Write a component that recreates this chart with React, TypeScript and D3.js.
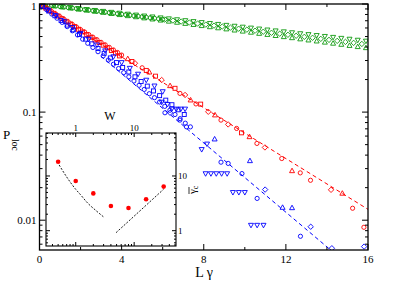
import React from 'react';
import * as d3 from 'd3';

// ---------- DATA ----------
// Main panel: [L*gamma, P_loc]
const greenCircles: [number, number][] = [
  [0, 1.0], [0.2, 0.989], [0.4, 0.978], [0.6, 0.968], [0.8, 0.957], [1.0, 0.947], [1.2, 0.937], [1.4, 0.927],
  [1.6, 0.916], [1.8, 0.907], [2.0, 0.897], [2.2, 0.887], [2.4, 0.877], [2.6, 0.868], [2.8, 0.858], [3.0, 0.849],
  [3.2, 0.84], [3.4, 0.831], [3.6, 0.822], [3.8, 0.813], [4.0, 0.804], [4.2, 0.795], [4.4, 0.787], [4.6, 0.778],
  [4.8, 0.77], [5.0, 0.761], [5.2, 0.753], [5.4, 0.745], [5.6, 0.737], [5.8, 0.729], [6.0, 0.721],
];
const greenTriDown: [number, number][] = [
  [0.3, 0.985], [0.7, 0.966], [1.1, 0.947], [1.5, 0.929], [1.9, 0.91], [2.3, 0.892], [2.7, 0.875], [3.1, 0.858],
  [3.5, 0.841], [3.9, 0.825], [4.3, 0.808], [4.7, 0.793], [5.1, 0.777], [5.5, 0.762], [5.9, 0.747], [6.3, 0.732],
  [6.7, 0.718], [7.1, 0.704], [7.5, 0.69], [7.9, 0.676], [8.3, 0.663], [8.7, 0.65], [9.1, 0.637], [9.5, 0.625],
  [9.9, 0.613], [10.3, 0.601], [10.7, 0.589], [11.1, 0.577], [11.5, 0.566], [11.9, 0.555], [12.3, 0.544],
  [12.7, 0.533], [13.1, 0.523], [13.5, 0.513], [13.9, 0.503], [14.3, 0.493], [14.7, 0.483], [15.1, 0.474],
  [15.5, 0.464], [15.9, 0.455],
];
const greenTriUp: [number, number][] = [
  [0.3, 0.983], [0.7, 0.96], [1.1, 0.937], [1.5, 0.916], [1.9, 0.894], [2.3, 0.874], [2.7, 0.853], [3.1, 0.834],
  [3.5, 0.814], [3.9, 0.795], [4.3, 0.777], [4.7, 0.759], [5.1, 0.741], [5.5, 0.724], [5.9, 0.707], [6.3, 0.691],
  [6.7, 0.675], [7.1, 0.659], [7.5, 0.644], [7.9, 0.629], [8.3, 0.614], [8.7, 0.6], [9.1, 0.586], [9.5, 0.572],
  [9.9, 0.559], [10.3, 0.546], [10.7, 0.533], [11.1, 0.521], [11.5, 0.509], [11.9, 0.497], [12.3, 0.486],
  [12.7, 0.474], [13.1, 0.463], [13.5, 0.453], [13.9, 0.442], [14.3, 0.432], [14.7, 0.422], [15.1, 0.412],
  [15.5, 0.402], [15.9, 0.393],
];
const greenDiamonds: [number, number][] = [
  [6.1, 0.719], [6.5, 0.703], [6.9, 0.688], [7.3, 0.674], [7.7, 0.659], [8.1, 0.645], [8.5, 0.631], [8.9, 0.618],
  [9.3, 0.604], [9.7, 0.591], [10.1, 0.579], [10.5, 0.566], [10.9, 0.554], [11.3, 0.542], [11.7, 0.531],
  [12.1, 0.519], [12.5, 0.508], [12.9, 0.497], [13.3, 0.487], [13.7, 0.476], [14.1, 0.466], [14.5, 0.456],
  [14.9, 0.446], [15.3, 0.437], [15.7, 0.427],
];

const redCircles: [number, number][] = [
  [0, 1.0], [0.2, 0.947], [0.4, 0.897], [0.6, 0.849], [0.8, 0.804], [1.0, 0.762], [1.2, 0.721], [1.4, 0.683],
  [1.6, 0.647], [1.8, 0.613], [2.0, 0.58], [2.2, 0.55], [2.4, 0.521], [2.6, 0.493], [2.8, 0.467], [3.0, 0.442],
  [3.2, 0.419], [3.4, 0.397], [3.6, 0.376], [3.8, 0.356], [4.0, 0.337],
  [5.0, 0.257], [6.84, 0.149], [7.62, 0.119], [8.84, 0.0843], [9.6, 0.0706], [10.59, 0.0513], [11.8, 0.0372],
  [12.7, 0.0274], [13.2, 0.0234], [15.25, 0.0129], [15.8, 0.0086],
];
const redSquares: [number, number][] = [
  [0.1, 0.972], [0.3, 0.918], [0.5, 0.868], [0.7, 0.82], [0.9, 0.775], [1.1, 0.732], [1.3, 0.692], [1.5, 0.654],
  [1.7, 0.618], [1.9, 0.584], [2.1, 0.552], [2.3, 0.521], [2.5, 0.493], [2.7, 0.465], [2.9, 0.44], [3.1, 0.416],
  [3.3, 0.393], [3.5, 0.371], [3.7, 0.351], [3.9, 0.331],
  [4.5, 0.294], [5.2, 0.243], [5.65, 0.215], [6.6, 0.166], [7.85, 0.1185], [9.84, 0.0643],
];
const redTriUp: [number, number][] = [
  [4.3, 0.311], [5.35, 0.234], [6.36, 0.175], [7.36, 0.129], [8.55, 0.0938], [10.23, 0.059], [12.3, 0.0286],
  [14.75, 0.0177],
];
const redDiamonds: [number, number][] = [
  [4.65, 0.283], [5.95, 0.198], [7.09, 0.144], [8.22, 0.1007], [9.19, 0.0769], [10.98, 0.0471], [14.2, 0.0191],
];

const blueTriDown: [number, number][] = [
  [0.4, 0.883], [0.8, 0.78], [1.2, 0.689], [1.6, 0.608], [2.0, 0.537], [2.4, 0.474], [2.8, 0.419], [3.2, 0.37],
  [3.6, 0.326], [4.0, 0.288], [4.4, 0.255], [4.8, 0.225], [5.2, 0.198], [5.6, 0.175], [5.95, 0.124], [6.0, 0.155],
  [6.23, 0.118], [6.44, 0.107], [6.66, 0.107], [6.88, 0.107], [7.09, 0.107],
  [7.9, 0.0452], [8.16, 0.0508], [8.09, 0.027], [8.35, 0.027], [8.61, 0.027], [8.87, 0.027], [9.14, 0.027],
  [9.42, 0.0181], [9.71, 0.0181], [10.0, 0.0181], [10.3, 0.009], [10.6, 0.009], [10.91, 0.009],
];
const blueSquares: [number, number][] = [
  [0.15, 0.951], [0.45, 0.861], [0.75, 0.779], [1.05, 0.705], [1.35, 0.638], [1.65, 0.577], [1.95, 0.522],
  [2.25, 0.473], [2.55, 0.428], [2.85, 0.387], [3.15, 0.35], [3.45, 0.317], [3.75, 0.287], [4.05, 0.259],
  [4.35, 0.235], [4.65, 0.212], [4.95, 0.192], [5.25, 0.174], [5.55, 0.157], [5.85, 0.142], [6.15, 0.129],
  [6.45, 0.117], [6.75, 0.105], [7.05, 0.095],
];
const blueCircles: [number, number][] = [
  [0.1, 0.965], [0.35, 0.883], [0.6, 0.807], [0.85, 0.739], [1.1, 0.676], [1.35, 0.618], [1.6, 0.565],
  [1.85, 0.517], [2.1, 0.473], [2.35, 0.433], [2.6, 0.396], [2.85, 0.362], [3.1, 0.331], [3.35, 0.303],
  [3.6, 0.277], [3.85, 0.253], [4.1, 0.232], [4.35, 0.212], [4.6, 0.194], [4.85, 0.177], [5.1, 0.162],
  [5.35, 0.148], [5.6, 0.136], [5.85, 0.124], [6.1, 0.113], [6.35, 0.104], [6.6, 0.095], [6.85, 0.087],
  [7.1, 0.079], [7.35, 0.073], [6.11, 0.0986], [6.84, 0.0843], [7.16, 0.073],
  [8.84, 0.0344], [9.19, 0.0335], [9.86, 0.027], [10.6, 0.0159], [12.71, 0.0071],
];
const blueTriUp: [number, number][] = [
  [8.53, 0.0562], [10.25, 0.0354], [11.84, 0.0131], [12.3, 0.013],
];
const blueDiamonds: [number, number][] = [
  [6.36, 0.0986], [10.99, 0.0192], [13.21, 0.0087], [14.24, 0.0055], [15.81, 0.0057],
];

// Fitted dashed lines (endpoints)
const redFit: [number, number][] = [[2, 0.556], [16, 0.0126]];
const blueFit: [number, number][] = [[3, 0.328], [14.45, 0.0048]];

// Inset: [W, gamma_c]
const insetPoints: [number, number][] = [
  [0.5, 18.2], [1, 8.1], [2, 4.8], [4, 2.83], [8, 2.6], [16, 3.75], [32, 6.4],
];
const insetCurveLow: [number, number][] = [
  [0.52, 15.9], [0.7, 9.6], [1.0, 5.7], [1.19, 4.63], [1.6, 3.2], [2.2, 2.35], [2.97, 1.8],
];
const insetCurveHigh: [number, number][] = [[4.9, 0.92], [31.8, 5.7]];

const xTicksMajor = [0, 4, 8, 12, 16];
const xTicksMinor = [2, 6, 10, 14];
const yTickLabels: [number, string][] = [[1, '1'], [0.1, '0.1'], [0.01, '0.01']];
const wTickLabels: [number, string][] = [[1, '1'], [10, '10']];
const gTickLabels: [number, string][] = [[1, '1'], [10, '10']];

// ---------- STYLE ----------
const GREEN = '#0f9a0f';
const RED = '#ff0000';
const BLUE = '#0000ff';
const FONT = '"Liberation Serif", "Times New Roman", serif';

function marker(type: string, cx: number, cy: number, color: string, key: string) {
  const sw = 0.9;
  if (type === 'circle') return <circle key={key} cx={cx} cy={cy} r={2.1} fill="none" stroke={color} strokeWidth={sw} />;
  if (type === 'square') return <rect key={key} x={cx - 2} y={cy - 2} width={4} height={4} fill="none" stroke={color} strokeWidth={sw} />;
  if (type === 'diamond') return <path key={key} d={`M${cx},${cy - 2.7}L${cx + 2.7},${cy}L${cx},${cy + 2.7}L${cx - 2.7},${cy}Z`} fill="none" stroke={color} strokeWidth={sw} />;
  if (type === 'triUp') return <path key={key} d={`M${cx},${cy - 2.7}L${cx + 2.5},${cy + 1.8}L${cx - 2.5},${cy + 1.8}Z`} fill="none" stroke={color} strokeWidth={sw} />;
  return <path key={key} d={`M${cx},${cy + 2.7}L${cx + 2.5},${cy - 1.8}L${cx - 2.5},${cy - 1.8}Z`} fill="none" stroke={color} strokeWidth={sw} />;
}

export default function App() {
  const Wd = 399, Ht = 282;
  const L = 39.5, R = 368, T = 4, B = 250;
  const x = d3.scaleLinear().domain([0, 16]).range([L, R]);
  const y = d3.scaleLog().domain([0.0053, 1]).range([B, T]);

  const iL = 46, iR = 176, iT = 133, iB = 246;
  const xi = d3.scaleLog().domain([0.31, 52]).range([iL, iR]);
  const yi = d3.scaleLog().domain([0.525, 61]).range([iB, iT]);

  const series: { data: [number, number][]; type: string; color: string }[] = [
    { data: greenCircles, type: 'circle', color: GREEN },
    { data: greenTriDown, type: 'triDown', color: GREEN },
    { data: greenTriUp, type: 'triUp', color: GREEN },
    { data: greenDiamonds, type: 'diamond', color: GREEN },
    { data: redCircles, type: 'circle', color: RED },
    { data: redSquares, type: 'square', color: RED },
    { data: redTriUp, type: 'triUp', color: RED },
    { data: redDiamonds, type: 'diamond', color: RED },
    { data: blueTriDown, type: 'triDown', color: BLUE },
    { data: blueSquares, type: 'square', color: BLUE },
    { data: blueCircles, type: 'circle', color: BLUE },
    { data: blueTriUp, type: 'triUp', color: BLUE },
    { data: blueDiamonds, type: 'diamond', color: BLUE },
  ];

  const line = d3.line<[number, number]>().x(d => x(d[0])).y(d => y(d[1]));
  const iline = d3.line<[number, number]>().x(d => xi(d[0])).y(d => yi(d[1])).curve(d3.curveMonotoneX);

  const yMinor: number[] = [];
  [0.001, 0.01, 0.1].forEach(dec => { for (let k = 2; k <= 9; k++) { const v = dec * k; if (v >= 0.0053 && v <= 1) yMinor.push(v); } });
  const wMinor: number[] = [];
  [0.1, 1, 10].forEach(dec => { for (let k = 2; k <= 9; k++) { const v = dec * k; if (v >= 0.31 && v <= 52) wMinor.push(v); } });
  const gMinor: number[] = [];
  [0.1, 1, 10].forEach(dec => { for (let k = 2; k <= 9; k++) { const v = dec * k; if (v >= 0.525 && v <= 61) gMinor.push(v); } });

  return (
    <svg width={Wd} height={Ht} style={{ position: 'absolute', left: 0, top: 0, background: '#fff' }} fontFamily={FONT}>
      <defs>
        <clipPath id="mainClip"><rect x={L} y={T} width={R - L} height={B - T} /></clipPath>
      </defs>
      <rect x={0} y={0} width={Wd} height={Ht} fill="#fff" />
      <g clipPath="url(#mainClip)">
        <path d={line(redFit) || ''} stroke={RED} strokeWidth={1} strokeDasharray="4,3" fill="none" />
        <path d={line(blueFit) || ''} stroke={BLUE} strokeWidth={1} strokeDasharray="4,3" fill="none" />
        {series.map((s, si) => s.data.map((d, i) => marker(s.type, x(d[0]), y(d[1]), s.color, `s${si}-${i}`)))}
      </g>
      {xTicksMajor.map(t => (
        <g key={`xM${t}`}>
          <line x1={x(t)} x2={x(t)} y1={B} y2={B - 6} stroke="#000" strokeWidth={1} />
          <line x1={x(t)} x2={x(t)} y1={T} y2={T + 6} stroke="#000" strokeWidth={1} />
          <text x={x(t)} y={B + 13} textAnchor="middle" fontSize={11}>{t}</text>
        </g>
      ))}
      {xTicksMinor.map(t => (
        <g key={`xm${t}`}>
          <line x1={x(t)} x2={x(t)} y1={B} y2={B - 3} stroke="#000" strokeWidth={1} />
          <line x1={x(t)} x2={x(t)} y1={T} y2={T + 3} stroke="#000" strokeWidth={1} />
        </g>
      ))}
      {yTickLabels.map(([v, s]) => (
        <g key={`yM${s}`}>
          <line x1={L} x2={L + 6} y1={y(v)} y2={y(v)} stroke="#000" strokeWidth={1} />
          <line x1={R} x2={R - 6} y1={y(v)} y2={y(v)} stroke="#000" strokeWidth={1} />
          <text x={L - 3} y={Math.max(y(v) + 4, 10)} textAnchor="end" fontSize={11}>{s}</text>
        </g>
      ))}
      {yMinor.map(v => (
        <g key={`ym${v}`}>
          <line x1={L} x2={L + 3} y1={y(v)} y2={y(v)} stroke="#000" strokeWidth={1} />
          <line x1={R} x2={R - 3} y1={y(v)} y2={y(v)} stroke="#000" strokeWidth={1} />
        </g>
      ))}
      <rect x={L} y={T} width={R - L} height={B - T} fill="none" stroke="#000" strokeWidth={1.3} />
      <text x={204} y={277} textAnchor="middle" fontSize={14}>L γ</text>
      <text x={3} y={139} fontSize={13}>P</text>
      <text transform="translate(12,139) rotate(90)" fontSize={9.5}>loc</text>

      <rect x={iL} y={iT} width={iR - iL} height={iB - iT} fill="#fff" stroke="none" />
      <path d={iline(insetCurveLow) || ''} stroke="#000" strokeWidth={0.9} strokeDasharray="2,1.5" fill="none" />
      <path d={iline(insetCurveHigh) || ''} stroke="#000" strokeWidth={0.9} strokeDasharray="2,1.5" fill="none" />
      {insetPoints.map((d, i) => <circle key={`ip${i}`} cx={xi(d[0])} cy={yi(d[1])} r={2.3} fill={RED} />)}
      {wTickLabels.map(([v, s]) => (
        <g key={`wM${s}`}>
          <line x1={xi(v)} x2={xi(v)} y1={iT} y2={iT + 4} stroke="#000" strokeWidth={1} />
          <line x1={xi(v)} x2={xi(v)} y1={iB} y2={iB - 4} stroke="#000" strokeWidth={1} />
          <text x={xi(v)} y={iT - 2} textAnchor="middle" fontSize={9}>{s}</text>
        </g>
      ))}
      {wMinor.map(v => (
        <g key={`wm${v}`}>
          <line x1={xi(v)} x2={xi(v)} y1={iT} y2={iT + 2} stroke="#000" strokeWidth={1} />
          <line x1={xi(v)} x2={xi(v)} y1={iB} y2={iB - 2} stroke="#000" strokeWidth={1} />
        </g>
      ))}
      {gTickLabels.map(([v, s]) => (
        <g key={`gM${s}`}>
          <line x1={iL} x2={iL + 4} y1={yi(v)} y2={yi(v)} stroke="#000" strokeWidth={1} />
          <line x1={iR} x2={iR - 4} y1={yi(v)} y2={yi(v)} stroke="#000" strokeWidth={1} />
          <text x={iR + 2} y={yi(v) + 3} textAnchor="start" fontSize={9}>{s}</text>
        </g>
      ))}
      {gMinor.map(v => (
        <g key={`gm${v}`}>
          <line x1={iL} x2={iL + 2} y1={yi(v)} y2={yi(v)} stroke="#000" strokeWidth={1} />
          <line x1={iR} x2={iR - 2} y1={yi(v)} y2={yi(v)} stroke="#000" strokeWidth={1} />
        </g>
      ))}
      <rect x={iL} y={iT} width={iR - iL} height={iB - iT} fill="none" stroke="#000" strokeWidth={1.1} />
      <text x={110} y={120} textAnchor="middle" fontSize={12}>W</text>
      <text transform="translate(196,194) rotate(-90)" fontSize={11}>
        <tspan>γ</tspan><tspan dy={2} fontSize={8}>c</tspan>
      </text>
      <line x1={189} x2={189} y1={187} y2={194} stroke="#000" strokeWidth={0.8} />
    </svg>
  );
}
